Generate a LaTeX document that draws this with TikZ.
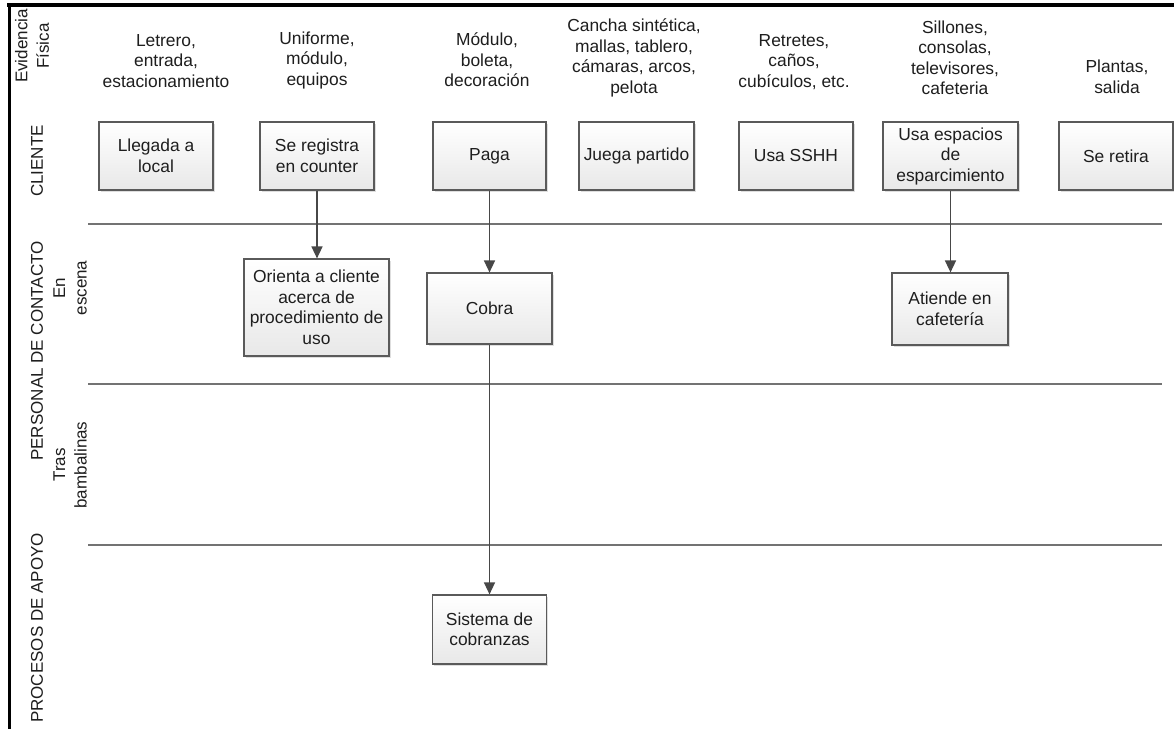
\documentclass[tikz,border=0pt]{standalone}
\usepackage{fontspec}
\setmainfont{Liberation Sans}
\usetikzlibrary{arrows.meta,shadows}
\definecolor{boxline}{HTML}{5A5A5A}
\definecolor{txt}{HTML}{1E1E1E}
\begin{document}
\begin{tikzpicture}[x=1pt,y=-1pt,
  every node/.style={font=\fontsize{17.4}{20.5}\selectfont, text=txt},
  box/.style={draw=boxline, line width=1.2pt, top color=white, bottom color=black!9,
    align=center, inner sep=0pt, minimum height=68pt,
    drop shadow={shadow xshift=1.5pt, shadow yshift=-1.5pt, fill=black!25, opacity=0.5}},
  evid/.style={align=center, inner sep=0pt},
  lane/.style={draw=black!55, line width=1.1pt},
  flow/.style={draw=black!72, line width=1.5pt, -{Triangle[width=11pt,length=12pt]}},
  vlab/.style={rotate=90, align=center, inner sep=0pt, font=\fontsize{17}{21.5}\selectfont}]
\useasboundingbox (0,0) rectangle (1174,729);
\fill[white] (0,0) rectangle (1174,729);
% frame
\draw[line width=4pt] (7,5) -- (1174,5);
\draw[line width=3pt] (9,4) -- (9,729);
% lane separators
\draw[lane] (88,224) -- (1162,224);
\draw[lane] (88,384) -- (1162,384);
\draw[lane] (88,545) -- (1162,545);
% lane labels
\node[vlab] (levid) at (32,46) {Evidencia\\Física};
\node[vlab] (lcli) at (37,161) {CLIENTE};
\node[vlab] (lpers) at (37,351) {PERSONAL DE CONTACTO};
\node[vlab] (lesc) at (70,288) {En\\escena};
\node[vlab] (ltras) at (70,465) {Tras\\bambalinas};
\node[vlab] (lproc) at (37,628) {PROCESOS DE APOYO};
% physical evidence
\node[evid] (e1) at (166,61) {Letrero,\\entrada,\\estacionamiento};
\node[evid] (e2) at (317,60) {Uniforme,\\módulo,\\equipos};
\node[evid] (e3) at (487,60) {Módulo,\\boleta,\\decoración};
\node[evid] (e4) at (634,58) {Cancha sintética,\\mallas, tablero,\\cámaras, arcos,\\pelota};
\node[evid] (e5) at (794,62) {Retretes,\\caños,\\cubículos, etc.};
\node[evid] (e6) at (955,58) {Sillones,\\consolas,\\televisores,\\cafeteria};
\node[evid] (e7) at (1117,77) {Plantas,\\salida};
% client actions
\node[box, minimum width=114pt] (llegada) at (156,156) {Llegada a\\local};
\node[box, minimum width=114pt] (registra) at (317,156) {Se registra\\en counter};
\node[box, minimum width=113pt] (paga) at (489.5,156) {Paga};
\node[box, minimum width=115pt] (juega) at (636.5,156) {Juega partido};
\node[box, minimum width=114pt] (sshh) at (796,156) {Usa SSHH};
\node[box, minimum width=135pt] (espacios) at (950.5,156) {Usa espacios\\de\\esparcimiento};
\node[box, minimum width=114pt] (retira) at (1116,156) {Se retira};
% contact staff
\node[box, minimum width=145pt, minimum height=97pt] (orienta) at (316.5,307.5) {Orienta a cliente\\acerca de\\procedimiento de\\uso};
\node[box, minimum width=125pt, minimum height=71pt] (cobra) at (489.5,308.5) {Cobra};
\node[box, minimum width=116pt, minimum height=72pt] (atiende) at (950,309) {Atiende en\\cafetería};
% support
\node[box, minimum width=114pt, minimum height=69pt] (sistema) at (489.5,629.5) {Sistema de\\cobranzas};
% flows
\draw[flow] (registra.south) -- (registra.south |- orienta.north);
\draw[flow] (paga.south) -- (paga.south |- cobra.north);
\draw[flow] (cobra.south) -- (cobra.south |- sistema.north);
\draw[flow] (espacios.south) -- (espacios.south |- atiende.north);
\end{tikzpicture}
\end{document}
